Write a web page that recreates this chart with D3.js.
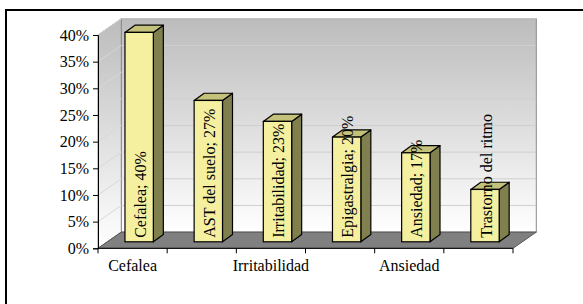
<!DOCTYPE html>
<html><head><meta charset="utf-8">
<script src="https://cdn.jsdelivr.net/npm/d3@7"></script>
<style>html,body{margin:0;padding:0;background:#fff;}svg{display:block;}</style>
</head><body>
<svg id="c" width="583" height="304"></svg>
<script>
const categories = ["Cefalea","AST del suelo","Irritabilidad","Epigastralgia","Ansiedad","Trastorno del ritmo"];
const values = [0.40, 0.27, 0.23, 0.20, 0.17, 0.10];
const dataLabels = ["Cefalea; 40%","AST del suelo; 27%","Irritabilidad; 23%","Epigastralgia; 20%","Ansiedad; 17%","Trastorno del ritmo"];
const yTicks = [0,0.05,0.10,0.15,0.20,0.25,0.30,0.35,0.40];
const shownXLabels = ["Cefalea","Irritabilidad","Ansiedad"];

(function(){
const svg = d3.select("#c");
const FONT = "'Liberation Serif','Times New Roman',serif";

// geometry
const X0 = 98, X1 = 513;
const WALL_DX = 23.3, WALL_DY = -16.2;
const BAR_DX = 10, BAR_DY = -7.2;

const x = d3.scaleBand().domain(categories).range([X0, X1]).padding(0);
const y = d3.scaleLinear().domain([0, 0.40]).range([248.3, 35]);
const yBar = d3.scaleLinear().domain([0, 0.40]).range([241.8, 32.4]);
const bw = x.bandwidth();

// outer frame
svg.append("rect").attr("x",6).attr("y",10).attr("width",600).attr("height",320)
  .attr("fill","none").attr("stroke","#000").attr("stroke-width",2);

// gradients
const defs = svg.append("defs");
const g1 = defs.append("linearGradient").attr("id","wall").attr("x1",0).attr("y1",0).attr("x2",0).attr("y2",1);
g1.append("stop").attr("offset","0%").attr("stop-color","#bcbcbc");
g1.append("stop").attr("offset","100%").attr("stop-color","#ffffff");

const wTop = y(0.40) + WALL_DY, wBot = y(0) + WALL_DY;
const bx0 = X0 + WALL_DX, bx1 = X1 + WALL_DX;

// back wall
svg.append("rect").attr("x",bx0).attr("y",wTop).attr("width",bx1-bx0).attr("height",wBot-wTop)
  .attr("fill","url(#wall)").attr("stroke","#8a8a8a").attr("stroke-width",1);
// left wall
svg.append("path")
  .attr("d",`M${X0},${y(0.40)}L${bx0},${wTop}L${bx0},${wBot}L${X0},${y(0)}Z`)
  .attr("fill","url(#wall)").attr("stroke","#8a8a8a").attr("stroke-width",1);

// gridlines
yTicks.slice(1).forEach(t=>{
  svg.append("line").attr("x1",bx0).attr("x2",bx1).attr("y1",y(t)+WALL_DY).attr("y2",y(t)+WALL_DY)
    .attr("stroke","#cfcfcf").attr("stroke-width",1);
  svg.append("line").attr("x1",X0).attr("x2",bx0).attr("y1",y(t)).attr("y2",y(t)+WALL_DY)
    .attr("stroke","#d8d8d8").attr("stroke-width",1);
});

// floor
svg.append("path")
  .attr("d",`M${X0},${y(0)}L${X1},${y(0)}L${bx1},${wBot}L${bx0},${wBot}Z`)
  .attr("fill","#808080").attr("stroke","#555").attr("stroke-width",1);

// axes
const yAxis = d3.axisLeft(y).tickValues(yTicks).tickFormat(d3.format(".0%")).tickSize(5).tickPadding(4);
const ya = svg.append("g").attr("transform",`translate(${X0},0)`).call(yAxis);
ya.select(".domain").attr("stroke","#000");
ya.selectAll("text").attr("font-family",FONT).attr("font-size",16).attr("fill","#000");

const xa = svg.append("g").attr("transform",`translate(0,${y(0)})`);
xa.append("line").attr("x1",X0).attr("x2",X1).attr("stroke","#000");
xa.selectAll("line.tk").data(categories.concat(["_end"])).enter().append("line").attr("class","tk")
  .attr("x1",(d,i)=>X0+i*bw).attr("x2",(d,i)=>X0+i*bw).attr("y1",0).attr("y2",5).attr("stroke","#000");
xa.selectAll("text").data(shownXLabels).enter().append("text")
  .attr("x",d=>x(d)+bw/2).attr("y",23).attr("text-anchor","middle")
  .attr("font-family",FONT).attr("font-size",16).attr("fill","#000").text(d=>d);

// bars
const bars = svg.append("g");
categories.forEach((c,i)=>{
  const v = values[i];
  const left = x(c) + bw*0.39, w = bw*0.41;
  const yt = yBar(v), yb = yBar(0);
  const g = bars.append("g");
  g.append("path").attr("d",`M${left+w},${yt}L${left+w+BAR_DX},${yt+BAR_DY}L${left+w+BAR_DX},${yb+BAR_DY}L${left+w},${yb}Z`)
    .attr("fill","#80804f").attr("stroke","#000").attr("stroke-width",1.2).attr("stroke-linejoin","round");
  g.append("path").attr("d",`M${left},${yt}L${left+BAR_DX},${yt+BAR_DY}L${left+w+BAR_DX},${yt+BAR_DY}L${left+w},${yt}Z`)
    .attr("fill","#c4c27a").attr("stroke","#000").attr("stroke-width",1.2).attr("stroke-linejoin","round");
  g.append("rect").attr("x",left).attr("y",yt).attr("width",w).attr("height",yb-yt)
    .attr("fill","#f5f0a0").attr("stroke","#000").attr("stroke-width",1.2);
  const cx = left + w/2 + 1, sy = yb - 4;
  g.append("text").attr("transform",`translate(${cx},${sy}) rotate(-90)`)
    .attr("dy","0.35em").attr("text-anchor","start")
    .attr("font-family",FONT).attr("font-size",16).attr("fill","#000").text(dataLabels[i]);
});
})();
</script>
</body></html>
